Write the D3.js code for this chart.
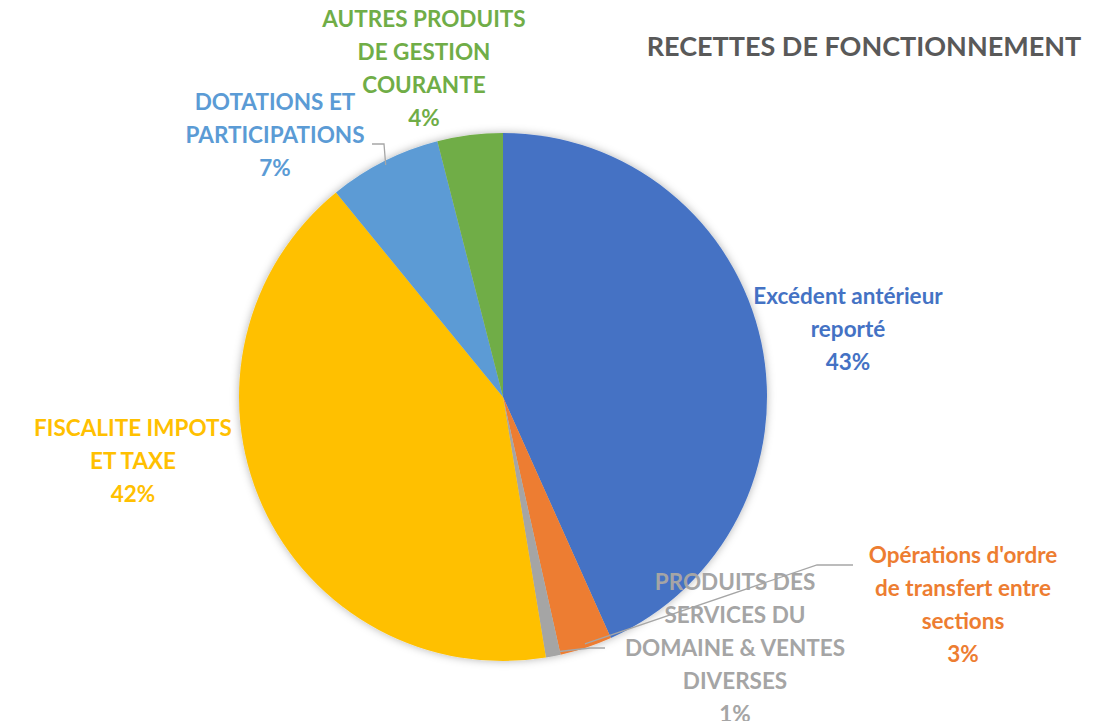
<!DOCTYPE html>
<html>
<head>
<meta charset="utf-8">
<script src="https://cdn.jsdelivr.net/npm/d3@7"></script>
<style>
  body { margin: 0; background: #fff; }
  text { font-family: Lato, "Open Sans", sans-serif; font-weight: bold; }
</style>
</head>
<body>
<div id="chart"></div>
<script>
const categories = [
  "Excédent antérieur reporté",
  "Opérations d'ordre de transfert entre sections",
  "PRODUITS DES SERVICES DU DOMAINE & VENTES DIVERSES",
  "FISCALITE IMPOTS ET TAXE",
  "DOTATIONS ET PARTICIPATIONS",
  "AUTRES PRODUITS DE GESTION COURANTE"
];
const values = [43.3, 3.2, 0.9, 41.7, 6.9, 4.0];
const labelLines = [
  ["Excédent antérieur", "reporté"],
  ["Opérations d'ordre", "de transfert entre", "sections"],
  ["PRODUITS DES", "SERVICES DU", "DOMAINE & VENTES", "DIVERSES"],
  ["FISCALITE IMPOTS", "ET TAXE"],
  ["DOTATIONS ET", "PARTICIPATIONS"],
  ["AUTRES PRODUITS", "DE GESTION", "COURANTE"]
];
const colors = ["#4472C4", "#ED7D31", "#A5A5A5", "#FFC000", "#5B9BD5", "#70AD47"];

// label layout (centre x, first line y) and leader elbows
const labelPos = [[848, 304], [963, 563], [735, 590], [133, 436], [275, 110], [424, 27]];
const leaders = { 1: [[817, 565], [853, 565]], 2: [[590, 648], [605, 648]], 4: [[384, 144], [372, 144]] };

const width = 1093, height = 721;
const cx = 503, cy = 397, r = 264;
const lineH = 33;

const svg = d3.select("#chart").append("svg")
  .attr("width", width)
  .attr("height", height);

const defs = svg.append("defs");
const f = defs.append("filter").attr("id", "shadow")
  .attr("x", "-10%").attr("y", "-10%").attr("width", "120%").attr("height", "120%");
f.append("feDropShadow").attr("dx", 0).attr("dy", 0)
  .attr("stdDeviation", 4).attr("flood-color", "#000").attr("flood-opacity", 0.3);

const pie = d3.pie().sort(null).value(d => d);
const arcs = pie(values);
const arc = d3.arc().innerRadius(0).outerRadius(r);
const edge = d3.arc().innerRadius(r - 4).outerRadius(r - 4);

const g = svg.append("g").attr("transform", `translate(${cx},${cy})`);

g.append("g").attr("filter", "url(#shadow)")
  .selectAll("path")
  .data(arcs)
  .join("path")
  .attr("d", arc)
  .attr("fill", (d, i) => colors[i]);

// leader lines
Object.keys(leaders).forEach(k => {
  const i = +k;
  const [sx, sy] = edge.centroid(arcs[i]);
  const pts = [[cx + sx, cy + sy]].concat(leaders[k]);
  svg.append("path")
    .attr("d", d3.line()(pts))
    .attr("fill", "none")
    .attr("stroke", "#A6A6A6")
    .attr("stroke-width", 1.3);
});

// labels
const labels = svg.append("g")
  .selectAll("text")
  .data(arcs)
  .join("text")
  .attr("text-anchor", "middle")
  .attr("font-size", 22.5)
  .attr("fill", (d, i) => colors[i])
  .attr("transform", (d, i) => `translate(${labelPos[i][0]},${labelPos[i][1]})`);

labels.each(function(d, i) {
  const t = d3.select(this);
  const lines = labelLines[i].concat([Math.round(d.data) + "%"]);
  lines.forEach((s, j) => {
    t.append("tspan").attr("x", 0).attr("y", j * lineH).text(s);
  });
});

svg.append("text")
  .attr("x", 864)
  .attr("y", 56)
  .attr("text-anchor", "middle")
  .attr("font-size", 27)
  .attr("fill", "#595959")
  .text("RECETTES DE FONCTIONNEMENT");
</script>
</body>
</html>
